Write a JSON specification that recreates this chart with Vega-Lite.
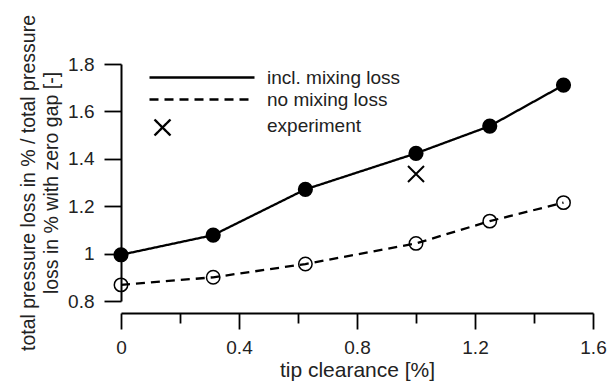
{
  "$schema": "https://vega.github.io/schema/vega-lite/v6.json",
  "width": 472,
  "height": 237,
  "autosize": {"type": "none"},
  "padding": {"left": 121, "top": 64, "right": 15, "bottom": 80},
  "background": "white",
  "config": {
    "view": {"stroke": null},
    "font": "Liberation Sans",
    "axis": {"grid": false, "domainColor": "black", "domainWidth": 2, "tickColor": "black", "tickWidth": 1.8, "labelColor": "#222", "titleColor": "#222", "titleFontWeight": "normal", "labelFont": "Liberation Sans", "titleFont": "Liberation Sans", "labelFlush": false}
  },
  "datasets": {
    "sim": [
      {"clearance": 0, "loss": 0.995, "series": "incl. mixing loss"},
      {"clearance": 0.3125, "loss": 1.078, "series": "incl. mixing loss"},
      {"clearance": 0.625, "loss": 1.271, "series": "incl. mixing loss"},
      {"clearance": 1.0, "loss": 1.423, "series": "incl. mixing loss"},
      {"clearance": 1.25, "loss": 1.538, "series": "incl. mixing loss"},
      {"clearance": 1.5, "loss": 1.711, "series": "incl. mixing loss"},
      {"clearance": 0, "loss": 0.868, "series": "no mixing loss"},
      {"clearance": 0.3125, "loss": 0.9, "series": "no mixing loss"},
      {"clearance": 0.625, "loss": 0.956, "series": "no mixing loss"},
      {"clearance": 1.0, "loss": 1.043, "series": "no mixing loss"},
      {"clearance": 1.25, "loss": 1.137, "series": "no mixing loss"},
      {"clearance": 1.5, "loss": 1.215, "series": "no mixing loss"}
    ],
    "exp": [
      {"clearance": 1.0, "loss": 1.336, "series": "experiment"}
    ]
  },
  "layer": [
    {
      "data": {"name": "sim"},
      "mark": {"type": "line", "color": "black", "strokeWidth": 2.3},
      "encoding": {
        "x": {
          "field": "clearance", "type": "quantitative",
          "scale": {"domain": [0, 1.6], "nice": false, "zero": false},
          "axis": {
            "values": [0, 0.2, 0.4, 0.6, 0.8, 1.0, 1.2, 1.4, 1.6],
            "format": "~g",
            "labelExpr": "round(datum.value*5)%2==0 ? datum.label : ''",
            "tickSize": {"condition": {"test": "round(datum.value*5)%2==0", "value": 16}, "value": 10},
            "offset": 12,
            "labelFontSize": 19,
            "labelPadding": 9,
            "title": "tip clearance [%]",
            "titleFontSize": 21,
            "titlePadding": 2
          }
        },
        "y": {
          "field": "loss", "type": "quantitative",
          "scale": {"domain": [0.8, 1.8], "nice": false, "zero": false},
          "axis": {
            "values": [0.8, 0.9, 1.0, 1.1, 1.2, 1.3, 1.4, 1.5, 1.6, 1.7, 1.8],
            "format": "~g",
            "labelExpr": "round(datum.value*10)%2==0 ? datum.label : ''",
            "tickSize": {"condition": {"test": "round(datum.value*10)%2==0", "value": 17}, "value": 8},
            "labelFontSize": 19,
            "labelPadding": 10,
            "title": ["total pressure loss in % / total pressure", "loss in % with zero gap [-]"],
            "titleFontSize": 19.5,
            "titleLineHeight": 23,
            "titlePadding": 6
          }
        },
        "strokeDash": {
          "field": "series", "type": "nominal",
          "scale": {"domain": ["incl. mixing loss", "no mixing loss", "experiment"], "range": [[1, 0], [9, 6], [1, 0]]},
          "legend": {
            "orient": "none",
            "legendX": 109,
            "legendY": 2,
            "title": null,
            "padding": 0,
            "symbolSize": 400,
            "symbolStrokeColor": "black",
            "symbolStrokeWidth": 2.3,
            "symbolFillColor": "transparent",
            "labelFontSize": 19,
            "labelColor": "#222",
            "labelFont": "Liberation Sans",
            "labelOffset": 14,
            "labelLimit": 300,
            "rowPadding": 2,
            "encode": {
              "symbols": {
                "update": {
                  "shape": {"signal": "datum.value === 'experiment' ? 'M-8.7,-0.4L-7.1,1.2M-8.7,1.2L-7.1,-0.4' : datum.value === 'no mixing loss' ? 'M-9.2,-0.3H1.3' : 'M-9.2,0H1.3'"},
                  "strokeDash": {"signal": "datum.value === 'no mixing loss' ? [9,10] : [1,0]"}
                }
              },
              "labels": {
                "update": {
                  "dy": {"signal": "datum.value === 'experiment' ? 2 : datum.value === 'no mixing loss' ? -3 : 0"}
                }
              }
            }
          }
        }
      }
    },
    {
      "data": {"name": "sim"},
      "transform": [{"filter": "datum.series === 'incl. mixing loss'"}],
      "mark": {"type": "point", "filled": true, "color": "black", "size": 230, "opacity": 1},
      "encoding": {
        "x": {"field": "clearance", "type": "quantitative"},
        "y": {"field": "loss", "type": "quantitative"}
      }
    },
    {
      "data": {"name": "sim"},
      "transform": [{"filter": "datum.series === 'no mixing loss'"}],
      "mark": {"type": "point", "filled": false, "color": "black", "strokeWidth": 1.5, "size": 180, "opacity": 1},
      "encoding": {
        "x": {"field": "clearance", "type": "quantitative"},
        "y": {"field": "loss", "type": "quantitative"}
      }
    },
    {
      "data": {"name": "exp"},
      "mark": {"type": "point", "shape": "M-1,-1L1,1M-1,1L1,-1", "filled": false, "color": "black", "strokeWidth": 2, "size": 256, "opacity": 1},
      "encoding": {
        "x": {"field": "clearance", "type": "quantitative"},
        "y": {"field": "loss", "type": "quantitative"}
      }
    }
  ]
}
